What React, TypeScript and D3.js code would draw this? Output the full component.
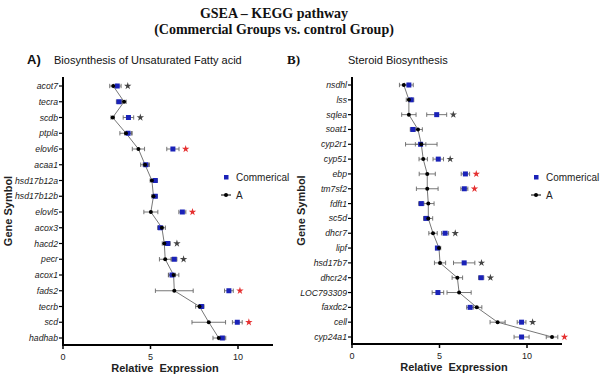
import React from "react";
import * as d3 from "d3";

// ---------- Panel A data ----------
const genesA = ["acot7","tecra","scdb","ptpla","elovl6","acaa1","hsd17b12a","hsd17b12b","elovl5","acox3","hacd2","pecr","acox1","fads2","tecrb","scd","hadhab"];
const commA = [3.1,3.2,3.74,3.72,6.28,4.73,5.27,5.27,6.82,5.56,5.98,6.36,6.23,9.48,7.91,9.96,9.1];
const commErrA = [0.22,0.15,0.3,0.2,0.35,0.15,0.12,0.12,0.2,0.15,0.15,0.15,0.2,0.25,0.15,0.28,0.2];
const ctrlA = [2.87,3.49,2.84,3.6,4.31,4.69,5.08,5.17,5.02,5.65,5.79,5.84,6.32,6.36,7.8,8.33,8.9];
const ctrlErrA = [0.2,0.12,0.1,0.35,0.35,0.25,0.1,0.1,0.4,0.2,0.12,0.33,0.3,1.08,0.22,0.96,0.33];
const sigA = ["black","","black","","red","","","","red","","black","black","","red","","red",""];

// ---------- Panel B data ----------
const genesB = ["nsdhl","lss","sqlea","soat1","cyp2r1","cyp51","ebp","tm7sf2","fdft1","sc5d","dhcr7","lipf","hsd17b7","dhcr24","LOC793309","faxdc2","cell","cyp24a1"];
const commB = [3.25,3.38,4.84,3.48,3.92,4.93,6.48,6.42,3.96,4.24,5.32,4.88,6.41,7.38,4.91,6.75,9.69,9.69];
const commErrB = [0.25,0.15,0.57,0.15,0.3,0.3,0.24,0.2,0.15,0.15,0.2,0.1,0.61,0.15,0.33,0.2,0.25,0.43];
const ctrlB = [2.96,3.25,3.25,3.77,3.96,4.07,4.3,4.3,4.36,4.36,4.63,4.97,5.03,6.02,6.12,7.13,8.32,11.43];
const ctrlErrB = [0.25,0.15,0.41,0.25,0.9,0.24,0.46,0.62,0.33,0.25,0.24,0.1,0.32,0.3,0.69,0.29,0.43,0.33];
const sigB = ["","","black","","","black","red","red","","","black","","black","black","","","black","red"];

const xTicks = [0, 5, 10];
const xDomain = [0, 12];

const BLUE = "#1a22b8";
const GREY = "#666";

type PanelProps = {
  genes: string[]; comm: number[]; commErr: number[]; ctrl: number[]; ctrlErr: number[]; sig: string[];
  x0: number; x1: number; yTop: number; yFirst: number; yLast: number; yAxis: number;
  labelX: number; legendX: number;
};

function Panel(p: PanelProps) {
  const x = d3.scaleLinear().domain(xDomain).range([p.x0, p.x1]);
  const y = d3.scalePoint<string>().domain(p.genes).range([p.yFirst, p.yLast]);
  const line = d3.line<number>().x((v) => x(v)).y((_, i) => y(p.genes[i]) as number);
  const star = d3.symbol().type(d3.symbolStar).size(17)();
  const cap = 2.2;
  const errBar = (v: number, e: number, yy: number, key: string) => (
    <g key={key} stroke={GREY} strokeWidth={0.9}>
      <line x1={x(v - e)} x2={x(v + e)} y1={yy} y2={yy} />
      <line x1={x(v - e)} x2={x(v - e)} y1={yy - cap} y2={yy + cap} />
      <line x1={x(v + e)} x2={x(v + e)} y1={yy - cap} y2={yy + cap} />
    </g>
  );
  const midY = (p.yTop + p.yAxis) / 2;
  return (
    <g fontFamily="'Liberation Sans', Arial, sans-serif">
      {/* axes */}
      <line x1={p.x0} x2={p.x0} y1={p.yTop} y2={p.yAxis} stroke="#000" strokeWidth={2} />
      <line x1={p.x0 - 1} x2={p.x1} y1={p.yAxis} y2={p.yAxis} stroke="#000" strokeWidth={2} />
      {xTicks.map((t) => (
        <g key={t}>
          <line x1={x(t)} x2={x(t)} y1={p.yAxis} y2={p.yAxis + 4} stroke="#000" strokeWidth={1.5} />
          <text x={x(t)} y={p.yAxis + 15} textAnchor="middle" fontSize={9} fill="#222">{t}</text>
        </g>
      ))}
      {p.genes.map((g) => (
        <g key={g}>
          <line x1={p.x0 - 4} x2={p.x0} y1={y(g)} y2={y(g)} stroke="#000" strokeWidth={1.2} />
          <text x={p.x0 - 5} y={(y(g) as number) + 3} textAnchor="end" fontSize={8.7} fontStyle="italic" fill="#222">{g}</text>
        </g>
      ))}
      <text transform={`translate(${p.labelX},${midY}) rotate(-90)`} textAnchor="middle" fontSize={11} fontWeight="bold" fill="#222">Gene Symbol</text>
      <text x={(p.x0 + p.x1) / 2 - 3} y={p.yAxis + 27} textAnchor="middle" fontSize={11} fontWeight="bold" fill="#222" style={{ whiteSpace: "pre" }}>Relative  Expression</text>
      {/* error bars */}
      {p.genes.map((g, i) => errBar(p.comm[i], p.commErr[i], y(g) as number, "ce" + g))}
      {p.genes.map((g, i) => errBar(p.ctrl[i], p.ctrlErr[i], y(g) as number, "ke" + g))}
      {/* control line */}
      <path d={line(p.ctrl) || ""} fill="none" stroke="#777" strokeWidth={1} />
      {p.genes.map((g, i) => (
        <rect key={"c" + g} x={x(p.comm[i]) - 2.5} y={(y(g) as number) - 2.5} width={5} height={5} fill={BLUE} />
      ))}
      {p.genes.map((g, i) => (
        <circle key={"k" + g} cx={x(p.ctrl[i])} cy={y(g)} r={2} fill="#000" />
      ))}
      {p.genes.map((g, i) => {
        if (!p.sig[i]) return null;
        const sx = Math.max(p.comm[i] + p.commErr[i], p.ctrl[i] + p.ctrlErr[i]) + 0.38;
        return <path key={"s" + g} d={star || ""} transform={`translate(${x(sx)},${y(g)})`} fill={p.sig[i] === "red" ? "#e53030" : "#444"} />;
      })}
      {/* legend */}
      <rect x={p.legendX - 2} y={175} width={4.5} height={4.5} fill={BLUE} />
      <text x={p.legendX + 10} y={181} fontSize={10} fill="#222">Commerical</text>
      <line x1={p.legendX - 5} x2={p.legendX + 5} y1={195} y2={195} stroke="#000" strokeWidth={1} />
      <circle cx={p.legendX} cy={195} r={2} fill="#000" />
      <text x={p.legendX + 10} y={199} fontSize={10} fill="#222">A</text>
    </g>
  );
}

export default function App() {
  return (
    <svg width={600} height={376} style={{ position: "absolute", left: 0, top: 0, background: "#fff" }}>
      <rect width={600} height={376} fill="#fff" />
      <g fontFamily="'Liberation Serif', 'Times New Roman', serif" fontWeight="bold" fill="#111">
        <text x={274} y={18} textAnchor="middle" fontSize={14}>GSEA – KEGG pathway</text>
        <text x={274} y={34} textAnchor="middle" fontSize={14}>(Commercial Groups vs. control Group)</text>
        <text x={287} y={64} fontSize={13}>B)</text>
      </g>
      <text x={27} y={64} fontSize={13} fontWeight="bold" fontFamily="'Liberation Sans', Arial, sans-serif" fill="#111">A)</text>
      <text x={54} y={64} fontSize={11} fontFamily="'Liberation Sans', Arial, sans-serif" fill="#111">Biosynthesis of Unsaturated Fatty acid</text>
      <text x={348} y={64} fontSize={11} fontFamily="'Liberation Sans', Arial, sans-serif" fill="#111">Steroid Biosynthesis</text>
      <Panel genes={genesA} comm={commA} commErr={commErrA} ctrl={ctrlA} ctrlErr={ctrlErrA} sig={sigA}
        x0={63} x1={273} yTop={77} yFirst={86} yLast={338} yAxis={345} labelX={12} legendX={226} />
      <Panel genes={genesB} comm={commB} commErr={commErrB} ctrl={ctrlB} ctrlErr={ctrlErrB} sig={sigB}
        x0={352} x1={562} yTop={77} yFirst={85} yLast={337} yAxis={344} labelX={305} legendX={536} />
    </svg>
  );
}
